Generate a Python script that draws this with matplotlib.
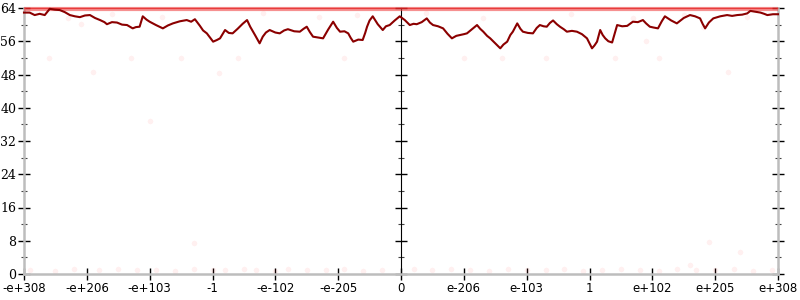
import numpy as np
import matplotlib
matplotlib.use("Agg")
import matplotlib.pyplot as plt

# x in tick-index units (-6 .. 6), tick labels below
tick_pos = [-6, -5, -4, -3, -2, -1, 0, 1, 2, 3, 4, 5, 6]
tick_labels = ["-e+308", "-e+206", "-e+103", "-1", "-e-102", "-e-205", "0",
               "e-206", "e-103", "1", "e+102", "e+205", "e+308"]

# error curve (dark red)
err_x = [-6.0, -5.91, -5.83, -5.75, -5.67, -5.59, -5.51, -5.43, -5.35, -5.27,
         -5.19, -5.11, -5.03, -4.95, -4.87, -4.79, -4.72, -4.68, -4.6, -4.52,
         -4.44, -4.36, -4.27, -4.22, -4.16, -4.11, -4.05, -4.0, -3.9, -3.79,
         -3.71, -3.63, -3.52, -3.41, -3.34, -3.28, -3.2, -3.15, -3.09, -3.04,
         -2.99, -2.93, -2.88, -2.8, -2.74, -2.68, -2.6, -2.52, -2.45, -2.4,
         -2.32, -2.25, -2.2, -2.15, -2.09, -2.0, -1.93, -1.86, -1.8, -1.7,
         -1.61, -1.55, -1.5, -1.45, -1.4, -1.32, -1.24, -1.16, -1.08, -1.02,
         -0.97, -0.9, -0.84, -0.8, -0.76, -0.68, -0.61, -0.57, -0.54, -0.5,
         -0.45, -0.37, -0.29, -0.24, -0.18, -0.1, -0.02,
         0.06, 0.14, 0.2, 0.25, 0.33, 0.41, 0.46, 0.51, 0.59, 0.67,
         0.74, 0.81, 0.88, 0.94, 1.0, 1.05, 1.13, 1.21, 1.26, 1.31,
         1.37, 1.42, 1.5, 1.58, 1.63, 1.69, 1.74, 1.78, 1.85, 1.9,
         1.94, 2.02, 2.1, 2.16, 2.21, 2.27, 2.32, 2.37, 2.42, 2.48,
         2.53, 2.59, 2.64, 2.72, 2.8, 2.88, 2.96, 3.0, 3.04, 3.08,
         3.12, 3.17, 3.21, 3.25, 3.3, 3.36, 3.44, 3.52, 3.6, 3.69,
         3.77, 3.85, 3.9, 3.96, 4.02, 4.09, 4.15, 4.2, 4.3, 4.39,
         4.5, 4.6, 4.68, 4.76, 4.8, 4.84, 4.9, 4.97, 5.08, 5.19,
         5.27, 5.35, 5.43, 5.51, 5.56, 5.64, 5.72, 5.78, 5.83, 5.92, 6.0]
err_y = [62.9, 62.9, 62.3, 62.6, 62.3, 63.8, 63.6, 63.5, 63.0, 62.3,
         62.0, 61.8, 62.2, 62.3, 61.6, 61.1, 60.6, 60.1, 60.6, 60.5,
         60.0, 59.9, 59.1, 59.4, 59.5, 62.0, 61.2, 60.7, 59.9, 59.1,
         59.8, 60.3, 60.8, 61.1, 60.7, 61.3, 59.7, 58.6, 57.9, 56.9,
         55.9, 56.3, 56.7, 58.7, 58.0, 57.9, 59.0, 60.2, 61.1, 59.5,
         57.4, 55.5, 57.1, 58.1, 58.7, 58.1, 57.9, 58.6, 58.9, 58.4,
         58.3, 59.0, 59.5, 58.2, 57.1, 56.9, 56.7, 58.8, 60.7, 59.2,
         58.3, 58.4, 57.9, 56.8, 55.9, 56.4, 56.3, 58.0, 59.5, 61.0,
         62.0, 60.1, 58.7, 59.6, 59.9, 61.0, 62.0,
         61.1, 59.9, 60.2, 60.1, 60.6, 61.5, 60.5, 59.9, 59.6, 59.1,
         57.8, 56.7, 57.3, 57.5, 57.7, 57.9, 58.9, 59.9, 59.0, 58.3,
         57.3, 56.7, 55.5, 54.3, 55.2, 55.9, 57.5, 58.3, 60.3, 59.0,
         58.3, 58.0, 57.9, 59.2, 59.9, 59.6, 59.5, 60.4, 61.0, 60.1,
         59.5, 58.9, 58.3, 58.5, 58.3, 57.7, 56.7, 55.5, 54.3, 55.0,
         55.9, 58.7, 57.5, 56.7, 56.0, 55.7, 59.9, 59.6, 59.7, 60.7,
         60.6, 61.1, 60.3, 59.5, 59.3, 59.1, 60.8, 62.0, 61.0, 60.3,
         61.6, 62.3, 62.0, 61.5, 60.2, 59.1, 60.5, 61.5, 62.0, 62.3,
         62.1, 62.3, 62.4, 62.7, 63.3, 63.1, 62.9, 62.6, 62.3, 62.5, 62.5]

# faint sample points
pts_x = [-5.9, -5.5, -5.2, -4.8, -4.5, -4.2, -3.9, -3.6, -3.3, -3.0,
         -2.8, -2.5, -2.3, -2.0, -1.8, -1.5, -1.2, -0.9, -0.6, -0.3,
         0.2, 0.5, 0.8, 1.1, 1.4, 1.7, 2.0, 2.3, 2.6, 2.9,
         3.2, 3.5, 3.8, 4.1, 4.4, 4.7, 5.0, 5.3, 5.6, 5.9,
         -5.6, -4.3, -3.5, -2.6, -0.9, 1.0, 1.6, 2.3, 3.4, 4.1, 5.2,
         -5.1, -3.3, -4.0, 4.9, 3.9, 5.4, -4.9, -2.9, 4.6, 4.8,
         -5.3, -4.6, -3.8, -2.2, -1.3, -0.7, 0.4, 1.3, 2.7, 3.7, 4.5, 5.5]
pts_y = [1.0, 0.8, 1.1, 0.9, 1.2, 0.9, 1.0, 0.8, 1.1, 0.9,
         1.0, 1.2, 0.9, 0.8, 1.1, 1.0, 0.9, 1.2, 0.8, 1.0,
         1.1, 0.9, 1.2, 1.0, 0.8, 1.1, 0.9, 1.0, 1.2, 0.8,
         0.9, 1.1, 1.0, 0.8, 1.2, 0.9, 1.0, 1.1, 0.8, 1.0,
         52.0, 52.0, 52.0, 52.0, 52.0, 52.0, 52.0, 52.0, 52.0, 52.0, 48.6,
         60.1, 7.5, 36.8, 7.7, 56.0, 5.3, 48.6, 48.4, 2.2, 59.5,
         61.5, 62.5, 61.8, 62.8, 61.9, 62.4, 62.7, 61.7, 62.5, 61.6, 62.2, 61.9]

fig = plt.figure(figsize=(8, 3), dpi=100)
ax = fig.add_axes([24 / 800, 26 / 300, 754 / 800, 266 / 300])

grey = "#bdbdbd"

ax.scatter(pts_x, pts_y, s=16, color="#ff3030", alpha=0.07, linewidths=0, zorder=2)
ax.plot([-6, 6], [63.7, 63.7], color="#f04848", lw=3.0, alpha=0.6,
        solid_capstyle="butt", clip_on=False, zorder=3)
ax.plot([-6, 6], [64, 64], color="#e01818", lw=0.9, alpha=0.7,
        solid_capstyle="butt", clip_on=False, zorder=3)
ax.plot(err_x, err_y, color="#8b0000", lw=1.5, zorder=4, clip_on=False)

ax.set_xlim(-6, 6)
ax.set_ylim(0, 64)

for side in ["left", "right", "bottom"]:
    ax.spines[side].set_color(grey)
    ax.spines[side].set_linewidth(1.8)
ax.spines["top"].set_visible(False)

ax.set_xticks(tick_pos)
ax.set_xticklabels(tick_labels, family="DejaVu Sans", fontsize=8.5)
ax.set_yticks(range(0, 65, 8))
ax.set_yticklabels([str(v) for v in range(0, 65, 8)], family="DejaVu Serif", fontsize=9)
ax.set_yticks(range(4, 64, 8), minor=True)
ax.tick_params(axis="both", which="major", direction="inout", length=9,
               width=1.0, color="black", pad=1)
ax.tick_params(axis="y", which="minor", direction="inout", length=5,
               width=0.8, color="#444444")
ax.tick_params(axis="y", which="both", right=True)

mid = ax.secondary_yaxis(0.5)
mid.spines["left"].set_color(grey)
mid.spines["left"].set_linewidth(1.8)
mid.set_yticks(range(0, 65, 8))
mid.set_yticks(range(4, 64, 8), minor=True)
mid.set_yticklabels([])
mid.tick_params(axis="y", which="major", direction="inout", length=9, width=1.0)
mid.tick_params(axis="y", which="minor", direction="inout", length=5,
                width=0.8, color="#444444")

fig.savefig("out.png", dpi=100)
